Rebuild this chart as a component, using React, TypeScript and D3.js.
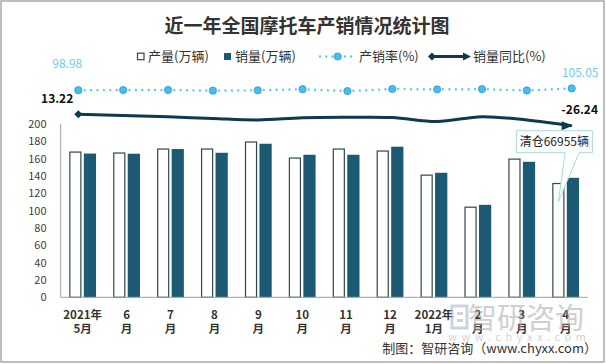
import React from "react";
import * as d3 from "d3";

const months = ["2021年\n5月", "6\n月", "7\n月", "8\n月", "9\n月", "10\n月", "11\n月", "12\n月", "2022年\n1月", "2\n月", "3\n月", "4\n月"];
const production = [167.6, 166.5, 171.1, 171.1, 179.2, 160.7, 171.1, 168.8, 141.0, 104.0, 159.5, 131.3];
const sales = [165.9, 165.7, 171.1, 166.8, 177.2, 164.5, 164.5, 173.8, 143.7, 106.7, 156.4, 137.9];
const ratio = [98.98, 99.5, 100.0, 97.5, 98.9, 102.4, 96.2, 103.0, 101.9, 102.6, 98.1, 105.05];
const yoy = [13.22, 9.1, 4.6, -1.3, -6.5, 1.1, 2.8, 2.1, -11.7, 4.9, -6.5, -26.24];
const yTicks = [0, 20, 40, 60, 80, 100, 120, 140, 160, 180, 200];

const W = 606;
const H = 364;
const font = "'Noto Sans CJK SC', 'Noto Sans', sans-serif";

const PROD_STROKE = "#2f4752";
const SALES_FILL = "#1b5a72";
const YOY_COLOR = "#0d3a4e";
const RATIO_COLOR = "#5ccaf3";

export default function App() {
  // 主坐标轴
  const x0 = d3.scaleBand<string>().domain(months).range([60.7, 587.6]).paddingInner(0.39).paddingOuter(0.195);
  const x1 = d3.scaleBand<string>().domain(["prod", "sales"]).range([0, x0.bandwidth()]).paddingInner(0.16);
  const y = d3.scaleLinear().domain([0, 200]).range([297.3, 124]);

  // 次坐标轴（隐藏）
  const xl = d3.scalePoint<string>().domain(months).range([78.3, 571.7]);
  const yRatio = d3.scaleLinear().domain([90, 110]).range([92.9, 86.9]);
  const yYoy = d3.scaleLinear().domain([-26.24, 13.22]).range([125.7, 114.3]);

  const ratioLine = d3
    .line<number>()
    .x((_, i) => xl(months[i])!)
    .y((d) => yRatio(d));
  const yoyLine = d3
    .line<number>()
    .x((_, i) => xl(months[i])!)
    .y((d) => yYoy(d))
    .curve(d3.curveCatmullRom.alpha(0.5));

  const n = months.length - 1;
  const firstX = xl(months[0])!;
  const lastX = xl(months[n])!;

  // 标注
  const tipX = x0(months[n])! + x1("prod")! + x1.bandwidth() * 0.5;
  const tipY = y(110);
  const bx = tipX - 42;
  const by = 130.7;
  const bw = 76;
  const bh = 22;
  const callout = `M${bx},${by}H${bx + bw}V${by + bh}H${bx + 62.7}L${tipX},${tipY}L${bx + 48.7},${by + bh}H${bx}Z`;

  return (
    <svg
      width={W}
      height={H}
      style={{ position: "absolute", left: 0, top: 0, background: "#fff" }}
      fontFamily={font}
    >
      <rect x={1} y={1} width={W - 3} height={H - 3} fill="#fff" stroke="#a9a9a9" strokeWidth={1.5} />

      {/* 标题 */}
      <text x={307} y={33} textAnchor="middle" fontSize={19} fontWeight="bold" fill="#333">
        近一年全国摩托车产销情况统计图
      </text>

      {/* 图例 */}
      <g fontSize={13} fill="#333">
        <rect x={137.5} y={53.2} width={6.5} height={6.5} fill="#fff" stroke={PROD_STROKE} strokeWidth={1.2} />
        <text x={148} y={61.2}>产量(万辆)</text>
        <rect x={224} y={53} width={7} height={7} fill={SALES_FILL} />
        <text x={235} y={61.2}>销量(万辆)</text>
        <line x1={320} x2={355} y1={56.5} y2={56.5} stroke={RATIO_COLOR} strokeWidth={2.4} strokeDasharray="0 6.2" strokeLinecap="round" />
        <circle cx={337.7} cy={56.5} r={3.6} fill="#45bff0" stroke="#2b95c8" strokeWidth={0.8} />
        <text x={359} y={61.2}>产销率(%)</text>
        <line x1={432} x2={465} y1={56.5} y2={56.5} stroke={YOY_COLOR} strokeWidth={3} />
        <path d="M428,56.5L432,52.5L436,56.5L432,60.5Z" fill={YOY_COLOR} />
        <path d="M463,52.5L471,56.5L463,60.5Z" fill={YOY_COLOR} />
        <text x={473} y={61.2}>销量同比(%)</text>
      </g>

      {/* 坐标轴 */}
      <line x1={60.7} x2={60.7} y1={y(200)} y2={y(0)} stroke="#a0a0a0" strokeWidth={1} />
      <g fontSize={11} fill="#404040" textAnchor="end">
        {yTicks.map((t) => (
          <text key={t} x={46.5} y={y(t) + 4}>
            {t}
          </text>
        ))}
      </g>

      {/* 柱 */}
      {months.map((m, i) => (
        <g key={m} transform={`translate(${x0(m)},0)`}>
          <rect
            x={x1("prod")! + 0.6}
            y={y(production[i])}
            width={x1.bandwidth() - 1.2}
            height={y(0) - y(production[i])}
            fill="#fff"
            stroke={PROD_STROKE}
            strokeWidth={1.2}
          />
          <rect x={x1("sales")!} y={y(sales[i])} width={x1.bandwidth()} height={y(0) - y(sales[i])} fill={SALES_FILL} />
        </g>
      ))}
      <line x1={60.7} x2={587.6} y1={y(0)} y2={y(0)} stroke="#a0a0a0" strokeWidth={1} />

      {/* 横轴标签 */}
      <g fontSize={11.5} fill="#333" fontWeight="bold" textAnchor="middle">
        {months.map((m) => {
          const [a, b] = m.split("\n");
          const cx = x0(m)! + x0.bandwidth() / 2;
          return (
            <g key={m}>
              <text x={cx} y={319}>{a}</text>
              <text x={cx} y={332.5}>{b}</text>
            </g>
          );
        })}
      </g>

      {/* 水印 */}
      <g opacity={0.55}>
        <rect x={452} y={306} width={15} height={22} fill="none" stroke="#9fb4c8" strokeWidth={3} />
        <rect x={457} y={312} width={6} height={3} fill="#9fb4c8" />
        <rect x={457} y={319} width={6} height={3} fill="#9fb4c8" />
        <text x={468} y={329} fontSize={29} fill="#a8a8a8">智研咨询</text>
        <text x={448} y={341} fontSize={11} fill="#b0b0b0" letterSpacing={4.6}>www.chyxx.com</text>
      </g>

      {/* 产销率 */}
      <path d={ratioLine(ratio)!} fill="none" stroke={RATIO_COLOR} strokeWidth={2.4} strokeDasharray="0 6.4" strokeLinecap="round" />
      {ratio.map((v, i) => (
        <circle key={i} cx={xl(months[i])} cy={yRatio(v)} r={3.6} fill="#45bff0" stroke="#2b95c8" strokeWidth={0.8} />
      ))}
      <text x={firstX - 11} y={yRatio(ratio[0]) - 22.5} fontSize={12} fill="#6cccf4" textAnchor="middle">
        {ratio[0].toFixed(2)}
      </text>
      <text x={lastX + 8.5} y={yRatio(ratio[n]) - 11.5} fontSize={12} fill="#6cccf4" textAnchor="middle">
        {ratio[n].toFixed(2)}
      </text>

      {/* 销量同比 */}
      <path d={yoyLine(yoy)!} fill="none" stroke={YOY_COLOR} strokeWidth={3} />
      <path
        d={`M${firstX - 4},${yYoy(yoy[0])}L${firstX},${yYoy(yoy[0]) - 4}L${firstX + 4},${yYoy(yoy[0])}L${firstX},${yYoy(yoy[0]) + 4}Z`}
        fill={YOY_COLOR}
      />
      <path d={`M${lastX - 10},${yYoy(yoy[n]) - 4.5}L${lastX + 1},${yYoy(yoy[n])}L${lastX - 10},${yYoy(yoy[n]) + 4.5}Z`} fill={YOY_COLOR} />
      <text x={firstX - 5} y={yYoy(yoy[0]) - 11.5} fontSize={12} fontWeight="bold" fill="#111" textAnchor="end">
        {yoy[0].toFixed(2)}
      </text>
      <text x={lastX + 8} y={yYoy(yoy[n]) - 11.5} fontSize={12} fontWeight="bold" fill="#111" textAnchor="middle">
        {yoy[n].toFixed(2)}
      </text>

      {/* 清仓标注 */}
      <path d={callout} fill="#fff" stroke="#a6dcdc" strokeWidth={1} />
      <text x={bx + bw / 2} y={by + 15.5} fontSize={12} fill="#222" textAnchor="middle">
        清仓66955辆
      </text>

      {/* 来源 */}
      <text x={597} y={353} fontSize={13} fill="#333" textAnchor="end">
        制图：智研咨询（www.chyxx.com）
      </text>
    </svg>
  );
}
